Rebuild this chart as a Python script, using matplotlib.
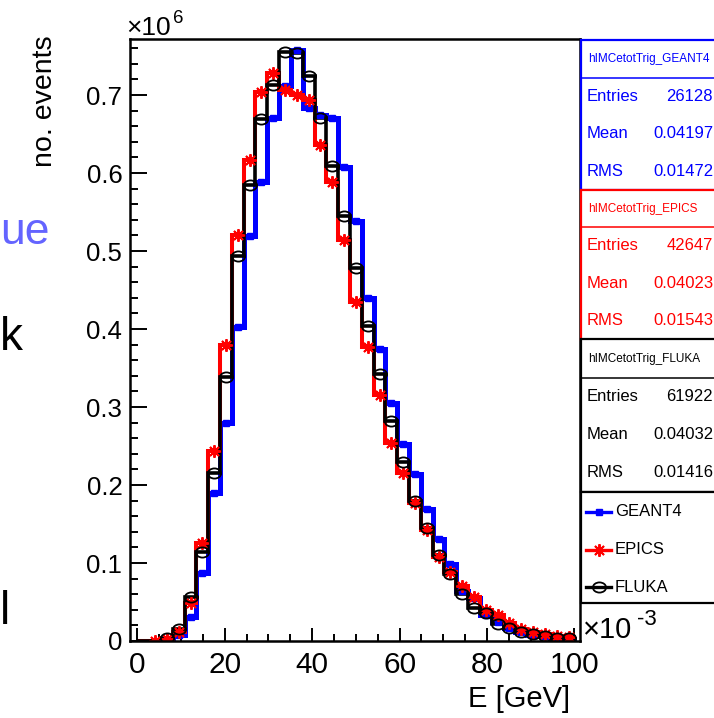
import numpy as np
import matplotlib

matplotlib.use("Agg")
import matplotlib.pyplot as plt
from matplotlib.lines import Line2D
from matplotlib.patches import Rectangle
from matplotlib.path import Path
from matplotlib.transforms import Affine2D

W, H = 714, 718
FONT = ["Liberation Sans", "DejaVu Sans"]
BLUE, RED, INK = "#0000FF", "#FF0000", "#000000"

# binning of the deposited-energy histograms
E_LO, E_HI, N_BINS = 0.0, 100.0, 37

# events per bin, in units of 1e6
geant4 = [0.0, 0.0, 0.001, 0.008, 0.031, 0.087, 0.190, 0.279, 0.403, 0.519,
          0.589, 0.670, 0.711, 0.758, 0.683, 0.675, 0.671, 0.608, 0.538, 0.440,
          0.374, 0.305, 0.253, 0.214, 0.169, 0.131, 0.099, 0.064, 0.055, 0.033,
          0.024, 0.017, 0.012, 0.008, 0.006, 0.004, 0.003]
epics = [0.0, 0.0005, 0.002, 0.011, 0.049, 0.126, 0.243, 0.379, 0.520, 0.617,
         0.704, 0.728, 0.707, 0.700, 0.693, 0.636, 0.589, 0.514, 0.435, 0.377,
         0.315, 0.254, 0.215, 0.177, 0.142, 0.108, 0.089, 0.070, 0.057, 0.040,
         0.033, 0.023, 0.016, 0.012, 0.009, 0.006, 0.005]
fluka = [0.0, 0.0, 0.0035, 0.015, 0.056, 0.1145, 0.216, 0.339, 0.494, 0.584,
         0.669, 0.713, 0.755, 0.754, 0.724, 0.671, 0.609, 0.545, 0.478, 0.404,
         0.342, 0.282, 0.229, 0.179, 0.1445, 0.110, 0.086, 0.060, 0.0427, 0.0355,
         0.0214, 0.0163, 0.0119, 0.009, 0.0064, 0.0035, 0.0035]

# stat boxes: histogram name, entries, mean, rms
hist_names = ["hIMCetotTrig_GEANT4", "hIMCetotTrig_EPICS", "hIMCetotTrig_FLUKA"]
entries = ["26128", "42647", "61922"]
means = ["0.04197", "0.04023", "0.04032"]
rmss = ["0.01472", "0.01543", "0.01416"]
labels = ["GEANT4", "EPICS", "FLUKA"]


def fx(px):
    return px / W


def fy(py):
    return 1 - py / H


# open circle, a bit wider than tall
ELLIPSE = Path.unit_circle().transformed(Affine2D().scale(1.3, 1.0))

styles = [
    dict(color=BLUE, lw=3.6, marker="s", ms=5, mfc=BLUE, mec=BLUE, mew=1.0),
    dict(color=RED, lw=2.9, marker=(8, 2, 0), ms=9, mfc=RED, mec=RED, mew=1.4),
    dict(color=INK, lw=2.6, marker=ELLIPSE, ms=9.5, mfc="none", mec=INK, mew=1.3),
]

plt.rcParams["font.family"] = FONT
fig = plt.figure(figsize=(W / 100, H / 100), dpi=100)
ax = fig.add_axes([fx(130), fy(641), fx(580) - fx(130), fy(39.4) - fy(641)])

edges = np.linspace(E_LO, E_HI, N_BINS + 1)
centers = 0.5 * (edges[:-1] + edges[1:])
for vals, st in zip([geant4, epics, fluka], styles):
    vals = np.asarray(vals)
    ax.stairs(vals, edges, color=st["color"], lw=st["lw"], baseline=0)
    nz = vals > 0
    ax.plot(centers[nz], vals[nz], ls="none", marker=st["marker"], ms=st["ms"],
            mfc=st["mfc"], mec=st["mec"], mew=st["mew"])

ax.set_xlim(-1.69, 101.28)
ax.set_ylim(0, 0.7713)
ax.set_xticks(np.arange(0, 101, 20))
ax.set_xticks(np.arange(0, 101, 5), minor=True)
ax.set_yticks(np.arange(0, 0.71, 0.1))
ax.set_yticks(np.arange(0, 0.77, 0.02), minor=True)
ax.set_yticklabels(["0"] + [f"{v:.1f}" for v in np.arange(0.1, 0.71, 0.1)])
ax.tick_params(which="both", direction="in", top=False, right=False, width=1.4)
ax.tick_params(axis="y", which="major", length=12, labelsize=18.5, pad=5.5)
ax.tick_params(axis="y", which="minor", length=5.8)
ax.tick_params(axis="x", which="major", length=9.4, labelsize=21.5, pad=7)
ax.tick_params(axis="x", which="minor", length=5)
for sp in ax.spines.values():
    sp.set_linewidth(1.8)

# axis titles and exponents, ROOT style
fig.text(fx(51.7), fy(35), "no. events", rotation=90, rotation_mode="anchor",
         ha="right", va="baseline", fontsize=20.5)
fig.text(fx(570), fy(707), "E [GeV]", ha="right", va="baseline", fontsize=21)
fig.text(fx(126), fy(35), "×10", ha="left", va="baseline", fontsize=19)
fig.text(fx(173), fy(23), "6", ha="left", va="baseline", fontsize=13.5)
fig.text(fx(583), fy(638), "×10", ha="left", va="baseline", fontsize=21)
fig.text(fx(637), fy(625), "-3", ha="left", va="baseline", fontsize=16)

# stat boxes
box_rows = [(40, 77.7, 190), (190, 227, 339.5), (339.5, 377.7, 491.7)]
for i, (top, sep, bot) in enumerate(box_rows):
    c = styles[i]["color"]
    fig.add_artist(Rectangle((fx(581), fy(bot)), fx(760) - fx(581), fy(top) - fy(bot),
                             transform=fig.transFigure, facecolor="white",
                             edgecolor=c, lw=1.6))
    fig.add_artist(Line2D([fx(581), fx(760)], [fy(sep)] * 2,
                          transform=fig.transFigure, color=c, lw=1.1))
    fig.text(fx(588), fy((top + sep) / 2), hist_names[i], color=c,
             fontsize=8.5, va="center", ha="left")
    rows = [("Entries", entries[i]), ("Mean", means[i]), ("RMS", rmss[i])]
    step = (bot - sep) / 3
    for j, (name, val) in enumerate(rows):
        y = sep + step * (j + 0.5)
        fig.text(fx(587), fy(y), name, color=c, fontsize=12, va="center", ha="left")
        fig.text(fx(713), fy(y), val, color=c, fontsize=12, va="center", ha="right")

# legend box
fig.add_artist(Rectangle((fx(581), fy(603)), fx(760) - fx(581), fy(491.7) - fy(603),
                         transform=fig.transFigure, facecolor="white",
                         edgecolor=INK, lw=1.6))
for i, y in enumerate([512, 550, 587]):
    st = styles[i]
    fig.add_artist(Line2D([fx(586), fx(611)], [fy(y)] * 2, transform=fig.transFigure,
                          color=st["color"], lw=min(st["lw"], 2.4)))
    fig.add_artist(Line2D([fx(598.5)], [fy(y)], transform=fig.transFigure, ls="none",
                          marker=st["marker"], ms=st["ms"], mfc=st["mfc"],
                          mec=st["mec"], mew=st["mew"]))
    fig.text(fx(615), fy(y), labels[i], fontsize=12, va="center", ha="left")

# slide text running in from the left
fig.text(fx(0), fy(244), "ue", color="#6464FF", fontsize=32, ha="left", va="baseline")
fig.text(fx(0), fy(350), "k", color=INK, fontsize=33, ha="left", va="baseline")
fig.text(fx(0), fy(624), "l", color=INK, fontsize=33, ha="left", va="baseline")

fig.savefig("out.png", dpi=100)
